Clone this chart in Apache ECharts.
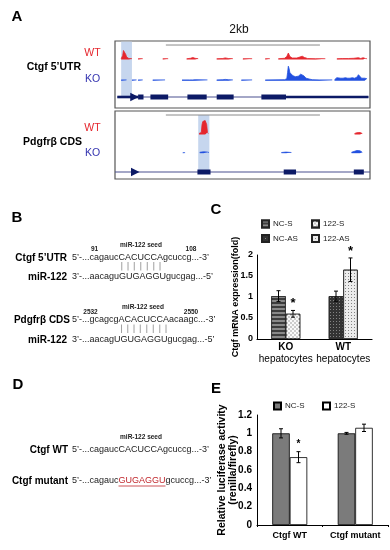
<!DOCTYPE html>
<html><head><meta charset="utf-8">
<script src="https://cdn.jsdelivr.net/npm/echarts@6/dist/echarts.min.js"></script>
<style>html,body{margin:0;padding:0;background:#fff}#c{width:390px;height:550px}</style>
</head><body><div id="c"></div>
<script>
// ================= DATA =================
// Panel A: genome window in kb
const windowKb = 3.31;
const scaleBarKb = [0.66, 2.66];
const ctgfHighlightKb = [0.08, 0.22];
const pdgfHighlightKb = [1.08, 1.225];

// coverage tracks: segments of [kb, signal]
const ctgfWT = [
  [[0.08,0.8],[0.10,4],[0.11,9],[0.12,10],[0.13,9.5],[0.14,5],[0.15,2.5],[0.16,1.5],[0.18,1],[0.20,0.8],[0.22,0.8]],
  [[0.30,0.8],[0.36,0.8]],
  [[0.62,0.8],[0.69,0.8]],
  [[0.93,0.8],[0.98,1.2],[1.01,2],[1.04,1.2],[1.08,0.8]],
  [[1.32,0.8],[1.40,1],[1.43,1.6],[1.47,1],[1.53,0.8]],
  [[1.66,0.8],[1.78,0.8]],
  [[1.95,0.8],[2.01,0.8]],
  [[2.12,0.8],[2.20,1.2],[2.23,3],[2.25,6.5],[2.27,3],[2.30,1.5],[2.36,1.5],[2.40,2.5],[2.43,3.3],[2.46,2],[2.50,1],[2.60,0.8],[2.73,0.8]],
  [[2.88,0.8],[2.95,1],[3.03,1],[3.10,1.2],[3.16,1.8],[3.19,1],[3.22,1.8],[3.25,1],[3.27,0.8]]
];
const ctgfKO = [
  [[0.08,0.8],[0.15,0.8]],
  [[0.22,0.8],[0.28,0.8]],
  [[0.30,0.8],[0.36,0.8]],
  [[0.49,0.8],[0.65,0.8]],
  [[0.87,0.8],[0.97,0.8],[0.99,1],[1.01,0.8],[1.04,1],[1.20,0.8]],
  [[1.32,0.8],[1.40,1],[1.43,1.3],[1.47,1],[1.53,0.8]],
  [[1.64,0.8],[1.78,0.8]],
  [[1.95,0.8],[2.20,1],[2.23,2],[2.24,8],[2.25,14.5],[2.26,12],[2.27,8],[2.29,6],[2.31,5],[2.34,4],[2.38,4.5],[2.41,6.5],[2.43,7],[2.45,5],[2.48,2.5],[2.50,1.5],[2.53,1.5],[2.56,1],[2.65,0.8],[2.82,0.8]],
  [[2.85,1],[2.88,3],[2.90,3.5],[2.93,2.5],[2.96,2.5],[2.99,3],[3.02,2.5],[3.05,2.5],[3.08,3],[3.11,2.5],[3.14,3.5],[3.16,6],[3.18,4],[3.20,2.5],[3.22,4],[3.24,2.5],[3.27,2]]
];
const pdgfWT = [
  [[1.09,1],[1.12,2],[1.13,10],[1.14,13],[1.15,15],[1.16,14.5],[1.17,14],[1.18,13],[1.19,10],[1.20,2],[1.21,1]],
  [[3.11,1],[3.14,1.8],[3.18,2],[3.21,1]]
];
const pdgfKO = [
  [[0.88,0.6],[0.91,0.6]],
  [[1.10,1],[1.15,1.5],[1.20,1.2],[1.22,0.8]],
  [[2.16,0.8],[2.22,1.2],[2.29,0.8]],
  [[3.07,1],[3.11,2],[3.14,2.8],[3.18,2.5],[3.21,1]]
];
// gene models (kb)
const ctgfIntron = [0.03, 3.29];
const ctgfUTR = [[0.03, 0.30], [2.22, 3.29]];
const ctgfExons = [[0.30,0.37],[0.46,0.69],[0.94,1.19],[1.32,1.54],[1.90,2.22]];
const ctgfTSS = 0.25;
const pdgfIntron = [0, 3.31];
const pdgfExons = [[1.07,1.24],[2.19,2.35],[3.10,3.23]];
const pdgfTSS = 0.26;

// Panel C
const cCats = ['KO\nhepatocytes', 'WT\nhepatocytes'];
const cSeriesNames = ['NC-S', '122-S', 'NC-AS', '122-AS'];
const cMeans = [1.02, 0.60, 1.02, 1.65];
const cErrs  = [0.13, 0.08, 0.12, 0.28];
const cGroup = [0, 0, 1, 1];
const cStar  = [false, true, false, true];
const cTicks = [0, 0.5, 1, 1.5, 2];

// Panel E
const eCats = ['Ctgf WT', 'Ctgf mutant'];
const eNCS = [1.00, 1.00];
const eNCSerr = [0.05, 0.01];
const e122S = [0.74, 1.06];
const e122Serr = [0.06, 0.04];
const e122Star = [true, false];

// Panels B / D text
const seqCtgf = ['5’-...cagauc', 'CACUCCA', 'gcuccg...-3’'];
const seqMir1 = ['3’-...aacagu', 'GUGAGGU', 'gucgag...-5’'];
const seqPdgf = ['5’-...gcagcg', 'ACACUCCA', 'acaagc...-3’'];
const seqMir2 = ['3’-...aacag', 'UGUGAGGU', 'gucgag...-5’'];
const seqMut  = ['5’-...cagauc', 'GUGAGGU', 'gcuccg...-3’'];
const posCtgf = ['91', '108'];
const posPdgf = ['2532', '2550'];

// ================= LAYOUT / STYLE =================
const F = 'Liberation Sans';
const RED = '#e5262d', BLUE = '#2250e0', NAVY = '#0c1a66';
const KOTXT = '#3434b0';
const HL = '#c6d6ee';
const AX = {left:115, width:255};

function build(segs){
  const out = [];
  segs.forEach((s, i) => {
    if (i) { const p = segs[i-1][segs[i-1].length-1][0]; out.push([(p + s[0][0]) / 2, '-']); }
    s.forEach(pt => out.push(pt));
  });
  return out;
}

const grids = [
  {left:AX.left, width:AX.width, top:41, height:67, show:true, borderColor:'#555', borderWidth:1.2}, //0 frame1
  {left:AX.left, width:AX.width, top:47.5, height:12},   //1 wt1
  {left:AX.left, width:AX.width, top:64.7, height:16},   //2 ko1
  {left:AX.left, width:AX.width, top:92, height:10},     //3 gene1
  {left:AX.left, width:AX.width, top:111, height:68, show:true, borderColor:'#555', borderWidth:1.2}, //4 frame2
  {left:AX.left, width:AX.width, top:117.5, height:17},  //5 wt2
  {left:AX.left, width:AX.width, top:145.3, height:8},   //6 ko2
  {left:AX.left, width:AX.width, top:167, height:10},    //7 gene2
  {left:257, width:115, top:255, height:84},             //8 C
  {left:257, width:131, top:415, height:110}             //9 E
];
const yMax = [1, 12, 16, 1, 1, 17, 8, 1];

const xAxes = [], yAxes = [];
for (let i = 0; i < 8; i++) {
  xAxes.push({gridIndex:i, type:'value', min:0, max:windowKb, show:false});
  yAxes.push({gridIndex:i, type:'value', min:0, max:yMax[i], show:false});
}
xAxes.push({gridIndex:8, type:'category', data:cCats,
  axisLine:{lineStyle:{color:'#000', width:1.2}}, axisTick:{show:false},
  axisLabel:{margin:2, interval:0, formatter: v => { const p = v.split('\n'); return '{b|'+p[0]+'}\n{n|'+p[1]+'}'; },
    rich:{b:{fontFamily:F, fontWeight:'bold', fontSize:10, color:'#000', lineHeight:12},
          n:{fontFamily:F, fontSize:10, color:'#000', lineHeight:12}}}});
yAxes.push({gridIndex:8, type:'value', min:0, max:2, interval:0.5,
  axisLine:{show:true, lineStyle:{color:'#000', width:1}}, axisTick:{show:false}, splitLine:{show:false},
  axisLabel:{fontFamily:F, fontWeight:'bold', fontSize:9, color:'#000', margin:4},
  name:'Ctgf mRNA expression(fold)', nameLocation:'middle', nameGap:17, nameMoveOverlap:false,
  nameTextStyle:{fontFamily:F, fontWeight:'bold', fontSize:9, color:'#000'}});
xAxes.push({gridIndex:9, type:'category', data:eCats,
  axisLine:{lineStyle:{color:'#000', width:1}}, axisTick:{show:true, length:2, lineStyle:{color:'#000'}},
  axisLabel:{margin:6, interval:0, fontFamily:F, fontWeight:'bold', fontSize:9, color:'#000'}});
yAxes.push({gridIndex:9, type:'value', min:0, max:1.2, interval:0.2,
  axisLine:{show:true, lineStyle:{color:'#000', width:1}}, axisTick:{show:false}, splitLine:{show:false},
  axisLabel:{fontFamily:F, fontWeight:'bold', fontSize:10, color:'#000', margin:5},
  name:'Relative luciferase activity\n(renilla/firefly)', nameLocation:'middle', nameGap:18, nameMoveOverlap:false,
  nameTextStyle:{fontFamily:F, fontWeight:'bold', fontSize:10.5, lineHeight:11, color:'#000'}});

const series = [];
// frames: highlight + scale bar
function frameSeries(gi, hl, hlTop, hlBot, barY){
  return {type:'custom', xAxisIndex:gi, yAxisIndex:gi, silent:true, z:1,
    data:[[hl[0], hl[1], 0], [scaleBarKb[0], scaleBarKb[1], 1]],
    renderItem:(p, api) => {
      const kind = api.value(2);
      if (kind === 0) {
        const a = api.coord([api.value(0), hlTop]), b = api.coord([api.value(1), hlBot]);
        return {type:'rect', shape:{x:a[0], y:a[1], width:b[0]-a[0], height:b[1]-a[1]}, style:{fill:HL}};
      }
      const a = api.coord([api.value(0), barY]), b = api.coord([api.value(1), barY]);
      return {type:'line', shape:{x1:a[0], y1:a[1], x2:b[0], y2:b[1]}, style:{stroke:'#8a8a8a', lineWidth:1}};
    }};
}
series.push(frameSeries(0, ctgfHighlightKb, 0.99, 0.169, 0.94));
series.push(frameSeries(4, pdgfHighlightKb, 0.941, 0.107, 0.941));

function trackSeries(gi, segs, color){
  return {type:'line', xAxisIndex:gi, yAxisIndex:gi, data:build(segs), showSymbol:false, symbol:'none',
    silent:true, z:3, lineStyle:{width:0.8, color:color}, itemStyle:{color:color},
    areaStyle:{color:color, opacity:1}};
}
series.push(trackSeries(1, ctgfWT, RED));
series.push(trackSeries(2, ctgfKO, BLUE));
series.push(trackSeries(5, pdgfWT, RED));
series.push(trackSeries(6, pdgfKO, BLUE));

function geneSeries(gi, intron, utr, exons, tss, thinColor){
  const data = [[intron[0], intron[1], 0]];
  utr.forEach(u => data.push([u[0], u[1], 1]));
  exons.forEach(e => data.push([e[0], e[1], 2]));
  data.push([tss, tss, 3]);
  return {type:'custom', xAxisIndex:gi, yAxisIndex:gi, silent:true, z:4, data:data,
    renderItem:(p, api) => {
      const k = api.value(2);
      const a = api.coord([api.value(0), 0.5]), b = api.coord([api.value(1), 0.5]);
      if (k === 3) return {type:'polygon', shape:{points:[[a[0]-4, a[1]-4.2],[a[0]+4.5, a[1]],[a[0]-4, a[1]+4.2]]}, style:{fill:NAVY}};
      const h = k === 0 ? 1 : (k === 1 ? 2.6 : 5);
      return {type:'rect', shape:{x:a[0], y:a[1]-h/2, width:b[0]-a[0], height:h}, style:{fill: k === 0 ? thinColor : NAVY}};
    }};
}
series.push(geneSeries(3, ctgfIntron, ctgfUTR, ctgfExons, ctgfTSS, '#4a5090'));
series.push(geneSeries(7, pdgfIntron, [], pdgfExons, pdgfTSS, '#4a5090'));

// Panel C bars
const BWC = 14.5;
const cStyles = {
  'NC-S':  {color:'#3d3d3d', decal:{symbol:'rect', symbolSize:1, dashArrayX:[1,0], dashArrayY:[1.5,2], rotation:0, color:'rgba(150,150,150,0.85)'}},
  '122-S': {color:'#cdcdcd', decal:{symbol:'rect', symbolSize:1, dashArrayX:[[2,2],[0,2,2,0]], dashArrayY:[2,0], rotation:0, color:'rgba(255,255,255,0.9)'}},
  'NC-AS': {color:'#333333', decal:{symbol:'rect', symbolSize:1, dashArrayX:[1,2], dashArrayY:[1,2], rotation:0, color:'rgba(140,140,140,0.9)'}},
  '122-AS':{color:'#ececec', decal:{symbol:'rect', symbolSize:1, dashArrayX:[1,1.5], dashArrayY:[1,1.5], rotation:0, color:'rgba(120,120,120,0.9)'}}
};
cSeriesNames.forEach((nm, i) => {
  series.push({type:'bar', name:nm, xAxisIndex:8, yAxisIndex:8, stack: i % 2 === 0 ? 'nc' : 'mir',
    barWidth:BWC, barGap:'0%', silent:true, z:2,
    data: cCats.map((c, j) => j === cGroup[i] ? cMeans[i] : '-'),
    itemStyle:Object.assign({borderColor:'#222', borderWidth:0.7}, cStyles[nm])});
});
function errSeries(xi, items, bw, starSize, starGap){
  return {type:'custom', xAxisIndex:xi, yAxisIndex:xi, silent:true, z:6, data:items,
    renderItem:(p, api) => {
      const cat = api.value(0), m = api.value(1), e = api.value(2), slot = api.value(3), st = api.value(4);
      const c = api.coord([cat, m]);
      const x = c[0] + (slot ? bw/2 : -bw/2);
      const t = api.coord([cat, m + e])[1], b = api.coord([cat, m - e])[1];
      const ch = [
        {type:'line', shape:{x1:x, y1:t, x2:x, y2:b}, style:{stroke:'#000', lineWidth:1}},
        {type:'line', shape:{x1:x-2, y1:t, x2:x+2, y2:t}, style:{stroke:'#000', lineWidth:1}},
        {type:'line', shape:{x1:x-2, y1:b, x2:x+2, y2:b}, style:{stroke:'#000', lineWidth:1}}
      ];
      if (st) ch.push({type:'text', x:x, y:t - starGap, style:{text:'*', font:'bold '+starSize+'px "'+F+'"', fill:'#000', align:'center', verticalAlign:'middle', textAlign:'center', textVerticalAlign:'middle'}});
      return {type:'group', children:ch};
    }};
}
series.push(errSeries(8, cSeriesNames.map((n, i) => [cGroup[i], cMeans[i], cErrs[i], i % 2, cStar[i] ? 1 : 0]), BWC, 13, 7));

// Panel E bars
const BWE = 17.5;
series.push({type:'bar', name:'NC-S ', xAxisIndex:9, yAxisIndex:9, barWidth:BWE, barGap:'0%', silent:true, z:2,
  data:eNCS, itemStyle:{color:'#7b7b7b', borderColor:'#000', borderWidth:0.8}});
series.push({type:'bar', name:'122-S ', xAxisIndex:9, yAxisIndex:9, barWidth:BWE, barGap:'0%', silent:true, z:2,
  data:e122S, itemStyle:{color:'#ffffff', borderColor:'#000', borderWidth:0.8}});
const eErr = [];
eCats.forEach((c, j) => { eErr.push([j, eNCS[j], eNCSerr[j], 0, 0]); eErr.push([j, e122S[j], e122Serr[j], 1, e122Star[j] ? 1 : 0]); });
series.push(errSeries(9, eErr, BWE, 10, 7));

// legends
function lg(name, left, top){
  return {data:[name], left:left, top:top, padding:0, itemGap:0, itemWidth:7, itemHeight:7, icon:'rect',
    selectedMode:false, textStyle:{fontFamily:F, fontSize:8, color:'#222', padding:[0,0,0,-1]}};
}
const legends = [lg('NC-S', 261, 219.5), lg('122-S', 311, 219.5), lg('NC-AS', 261, 234), lg('122-AS', 311, 234),
  lg('NC-S ', 273, 401.5), lg('122-S ', 322, 401.5)];

// ---- graphic texts ----
const ctx = document.createElement('canvas').getContext('2d');
function tw(s, font){ ctx.font = font; return ctx.measureText(s).width; }
const G = [];
function T(x, y, text, font, fill, align){
  G.push({type:'text', x:x, y:y, silent:true, style:{text:text, font:font, fill:fill || '#000',
    align:align || 'left', verticalAlign:'middle', textAlign:align || 'left', textVerticalAlign:'middle'}});
}
const LB = 'bold 15px "'+F+'"';
T(17, 17, 'A', LB, '#000', 'center');
T(17, 218, 'B', LB, '#000', 'center');
T(216, 210, 'C', LB, '#000', 'center');
T(18, 385, 'D', LB, '#000', 'center');
T(216, 389, 'E', LB, '#000', 'center');

// Panel A labels
T(239, 30, '2kb', '12px "'+F+'"', '#111', 'center');
T(92.5, 53, 'WT', '10.5px "'+F+'"', RED, 'center');
T(92.5, 79, 'KO', '10.5px "'+F+'"', KOTXT, 'center');
T(81, 67, 'Ctgf 5’UTR', 'bold 10.5px "'+F+'"', '#000', 'right');
T(92.5, 128, 'WT', '10.5px "'+F+'"', RED, 'center');
T(92.5, 153, 'KO', '10.5px "'+F+'"', KOTXT, 'center');
T(82, 142, 'Pdgfrβ CDS', 'bold 10.5px "'+F+'"', '#000', 'right');

// sequence helper
const SF = '9px "'+F+'"';
function seq(x, y, parts, midColor){
  const w0 = tw(parts[0], SF), w1 = tw(parts[1], SF);
  T(x, y, parts[0], SF, '#222');
  T(x + w0, y, parts[1], SF, midColor || '#222');
  T(x + w0 + w1, y, parts[2], SF, '#222');
  return {x0:x + w0, x1:x + w0 + w1};
}
function pairBars(x, parts, y1, y2){
  const w0 = tw(parts[0], SF);
  let acc = 0;
  for (const ch of parts[1]) {
    const cw = tw(ch, SF);
    const cx = x + w0 + acc + cw/2;
    G.push({type:'line', silent:true, shape:{x1:cx, y1:y1, x2:cx, y2:y2}, style:{stroke:'#888', lineWidth:0.8}});
    acc += cw;
  }
}
const NB = 'bold 10px "'+F+'"';
const SMB = 'bold 6.5px "'+F+'"';
// Panel B
T(94.5, 249.5, posCtgf[0], SMB, '#222', 'center');
T(141, 245, 'miR-122 seed', SMB, '#222', 'center');
T(191, 249.5, posCtgf[1], SMB, '#222', 'center');
T(67, 258, 'Ctgf 5’UTR', NB, '#000', 'right');
seq(72, 258, seqCtgf);
pairBars(72, seqCtgf, 262, 270.5);
T(67, 277, 'miR-122', NB, '#000', 'right');
seq(72, 277, seqMir1);
T(90.5, 312, posPdgf[0], SMB, '#222', 'center');
T(143, 307, 'miR-122 seed', SMB, '#222', 'center');
T(191, 312, posPdgf[1], SMB, '#222', 'center');
T(70, 320, 'Pdgfrβ CDS', NB, '#000', 'right');
seq(72, 320, seqPdgf);
pairBars(72, seqPdgf, 324.5, 333);
T(67, 340, 'miR-122', NB, '#000', 'right');
seq(72, 340, seqMir2);
// Panel D
T(141, 437, 'miR-122 seed', SMB, '#222', 'center');
T(68, 450, 'Ctgf WT', NB, '#000', 'right');
seq(72, 450, seqCtgf);
T(68, 481, 'Ctgf mutant', NB, '#000', 'right');
const mu = seq(72, 481, seqMut, '#c0282d');
G.push({type:'line', silent:true, shape:{x1:mu.x0, y1:486, x2:mu.x1, y2:486}, style:{stroke:'#c0282d', lineWidth:0.8}});

const option = {
  animation:false,
  backgroundColor:'#fff',
  grid:grids, xAxis:xAxes, yAxis:yAxes, legend:legends, series:series,
  graphic:{elements:G}
};
const chart = echarts.init(document.getElementById('c'), null, {renderer:'canvas'});
chart.setOption(option);
</script></body></html>
